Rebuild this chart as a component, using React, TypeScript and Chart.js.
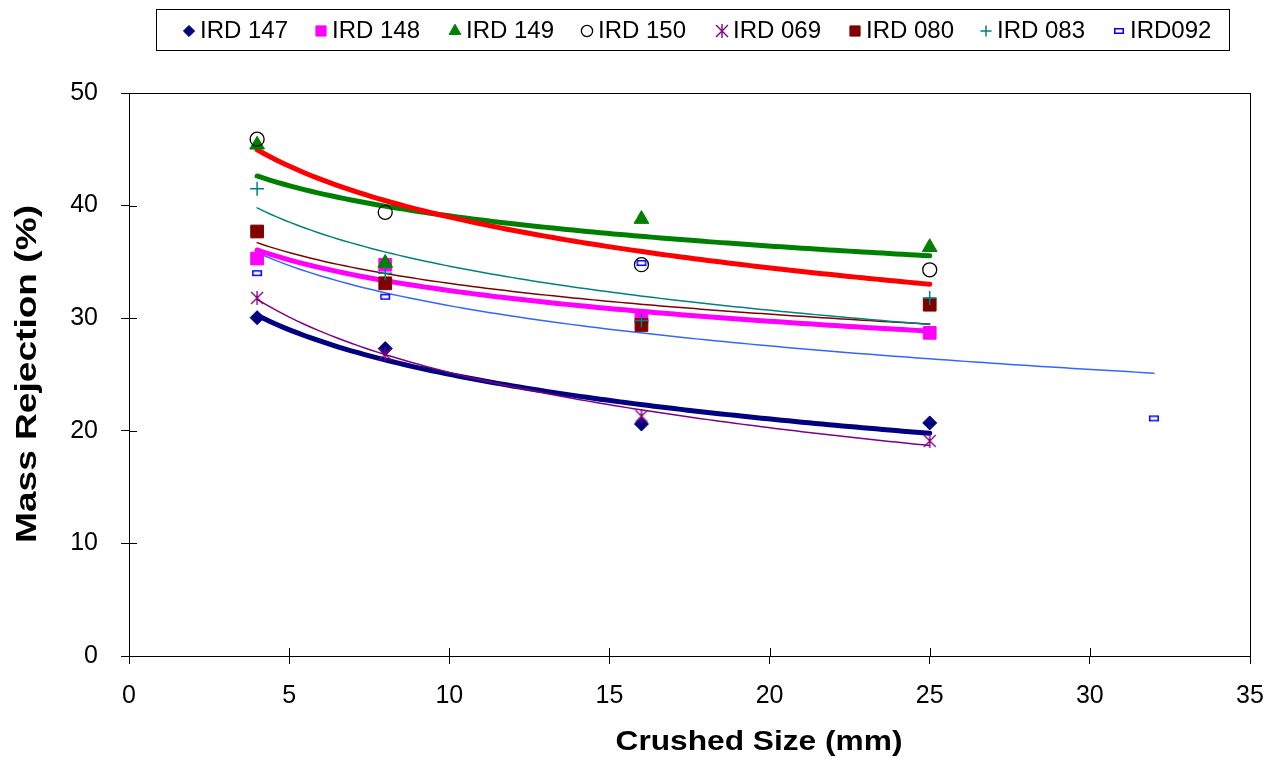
import React, { useEffect, useRef } from 'react';
import { Chart, registerables } from 'chart.js';
import { drawPoint } from 'chart.js/helpers';

Chart.register(...registerables);

// ---------- data ----------
const seriesNames = ['IRD 147', 'IRD 148', 'IRD 149', 'IRD 150', 'IRD 069', 'IRD 080', 'IRD 083', 'IRD092'];
const crushedSize = [4, 8, 16, 25];
const crushedSize092 = [4, 8, 16, 32];
const ird147 = [30.05, 27.3, 20.6, 20.7];
const ird148 = [35.3, 34.75, 30.1, 28.7];
const ird149 = [45.4, 34.9, 38.8, 36.3];
const ird150 = [45.9, 39.4, 34.75, 34.3];
const ird069 = [31.8, 26.8, 21.3, 19.1];
const ird080 = [37.7, 33.1, 29.4, 31.2];
const ird083 = [41.5, 34.0, 29.8, 31.8];
const ird092 = [34.0, 31.9, 34.9, 21.1];
const xTickValues = [0, 5, 10, 15, 20, 25, 30, 35];
const yTickValues = [0, 10, 20, 30, 40, 50];
const xTitle = 'Crushed Size (mm)';
const yTitle = 'Mass Rejection (%)';

// ---------- styles ----------
const FONT = '"Liberation Sans", Arial, sans-serif';

function makeStarCanvas(color: string) {
  const c = document.createElement('canvas');
  c.width = 16; c.height = 16;
  const g = c.getContext('2d')!;
  g.strokeStyle = color; g.lineWidth = 1.4;
  g.beginPath();
  g.moveTo(2, 2); g.lineTo(14, 14);
  g.moveTo(2, 14); g.lineTo(14, 2);
  g.moveTo(8, 1); g.lineTo(8, 15);
  g.stroke();
  return c;
}
function makeSmallRectCanvas(color: string) {
  const c = document.createElement('canvas');
  c.width = 12; c.height = 8;
  const g = c.getContext('2d')!;
  g.fillStyle = '#ffffff';
  g.fillRect(1, 1, 10, 6);
  g.strokeStyle = color; g.lineWidth = 1.5;
  g.strokeRect(1.75, 1.75, 8.5, 4.5);
  return c;
}

type MarkerStyle = { pointStyle: any; radius: number; bg: string; border: string; bw: number };

function logFitPoints(xs: number[], ys: number[]) {
  const lx = xs.map((v) => Math.log(v));
  const n = xs.length;
  const mx = lx.reduce((s, v) => s + v, 0) / n;
  const my = ys.reduce((s, v) => s + v, 0) / n;
  let sxy = 0, sxx = 0;
  for (let i = 0; i < n; i++) { sxy += (lx[i] - mx) * (ys[i] - my); sxx += (lx[i] - mx) ** 2; }
  const b = sxy / sxx;
  const a = my - b * mx;
  const x0 = Math.min(...xs), x1 = Math.max(...xs);
  const pts: { x: number; y: number }[] = [];
  const steps = 100;
  for (let i = 0; i <= steps; i++) {
    const x = x0 + ((x1 - x0) * i) / steps;
    pts.push({ x, y: a + b * Math.log(x) });
  }
  return pts;
}

export default function App() {
  const ref = useRef<HTMLCanvasElement | null>(null);

  useEffect(() => {
    if (!ref.current) return;
    const markers: MarkerStyle[] = [
      { pointStyle: 'rectRot', radius: 7, bg: '#000080', border: '#000080', bw: 1 },
      { pointStyle: 'rect', radius: 9, bg: '#FF00FF', border: '#FF00FF', bw: 1 },
      { pointStyle: 'triangle', radius: 8.5, bg: '#008000', border: '#008000', bw: 1 },
      { pointStyle: 'circle', radius: 7, bg: 'rgba(0,0,0,0)', border: '#000000', bw: 1.3 },
      { pointStyle: makeStarCanvas('#800080'), radius: 8, bg: '#800080', border: '#800080', bw: 1 },
      { pointStyle: 'rect', radius: 9, bg: '#800000', border: '#800000', bw: 1 },
      { pointStyle: 'cross', radius: 7, bg: '#008080', border: '#008080', bw: 1.5 },
      { pointStyle: makeSmallRectCanvas('#0000FF'), radius: 6, bg: '#0000FF', border: '#0000FF', bw: 1 },
    ];
    const trendColors = ['#000080', '#FF00FF', '#008000', '#FF0000', '#800080', '#800000', '#008080', '#3366FF'];
    const trendWidths = [5, 5, 5, 5, 1.5, 1.5, 1.5, 1.5];
    const xsList = [crushedSize, crushedSize, crushedSize, crushedSize, crushedSize, crushedSize, crushedSize, crushedSize092];
    const ysList = [ird147, ird148, ird149, ird150, ird069, ird080, ird083, ird092];

    const datasets: any[] = [];
    seriesNames.forEach((name, i) => {
      const m = markers[i];
      datasets.push({
        label: name,
        data: xsList[i].map((x, k) => ({ x, y: ysList[i][k] })),
        showLine: false,
        pointStyle: m.pointStyle,
        pointRadius: m.radius,
        pointBackgroundColor: m.bg,
        pointBorderColor: m.border,
        pointBorderWidth: m.bw,
        backgroundColor: m.bg,
        borderColor: m.border,
        order: 10 - i,
      });
    });
    seriesNames.forEach((name, i) => {
      datasets.push({
        label: name + ' trend',
        data: logFitPoints(xsList[i], ysList[i]),
        showLine: true,
        pointRadius: 0,
        borderColor: trendColors[i],
        borderWidth: trendWidths[i],
        borderCapStyle: 'round',
        tension: 0,
        order: 100 - i,
      });
    });

    const legendPlugin = {
      id: 'boxLegend',
      afterDraw(chart: any) {
        const ctx = chart.ctx;
        ctx.save();
        ctx.strokeStyle = '#000';
        ctx.lineWidth = 1;
        ctx.strokeRect(156.5, 9.5, 1073, 41);
        const textX = [200, 332, 466, 598, 733, 866, 997, 1130];
        ctx.font = '24px ' + FONT;
        ctx.textBaseline = 'middle';
        ctx.textAlign = 'left';
        seriesNames.forEach((name, i) => {
          const m = markers[i];
          ctx.fillStyle = m.bg;
          ctx.strokeStyle = m.border;
          ctx.lineWidth = m.bw;
          drawPoint(ctx, { pointStyle: m.pointStyle, radius: m.radius * 0.8, rotation: 0, borderWidth: m.bw } as any, textX[i] - 11, 31);
          ctx.fillStyle = '#000';
          ctx.fillText(name, textX[i], 31);
        });
        ctx.restore();
      },
    };

    const framePlugin = {
      id: 'frame',
      afterDraw(chart: any) {
        const ctx = chart.ctx;
        const a = chart.chartArea;
        ctx.save();
        ctx.strokeStyle = '#000';
        ctx.lineWidth = 1;
        ctx.strokeRect(Math.round(a.left) + 0.5, Math.round(a.top) + 0.5, Math.round(a.right - a.left), Math.round(a.bottom - a.top));
        // inner halves of the tick marks
        ctx.beginPath();
        const xs = chart.scales.x, ys = chart.scales.y;
        xs.ticks.forEach((t: any) => {
          const px = Math.round(xs.getPixelForValue(t.value)) + 0.5;
          ctx.moveTo(px, a.bottom);
          ctx.lineTo(px, a.bottom - 8);
        });
        ys.ticks.forEach((t: any) => {
          const py = Math.round(ys.getPixelForValue(t.value)) + 0.5;
          ctx.moveTo(a.left, py);
          ctx.lineTo(a.left + 8, py);
        });
        ctx.stroke();

        // axis titles (stretched like the original)
        ctx.fillStyle = '#000';
        ctx.textAlign = 'center';
        ctx.textBaseline = 'middle';
        ctx.font = 'bold 28px ' + FONT;
        let w = ctx.measureText(xTitle).width;
        ctx.save();
        ctx.translate(759, 742);
        ctx.scale(287 / w, 1);
        ctx.fillText(xTitle, 0, 0);
        ctx.restore();

        ctx.font = 'bold 30px ' + FONT;
        w = ctx.measureText(yTitle).width;
        ctx.save();
        ctx.translate(28, 374);
        ctx.rotate(-Math.PI / 2);
        ctx.scale(338 / w, 1);
        ctx.fillText(yTitle, 0, 0);
        ctx.restore();
        ctx.restore();
      },
    };

    const chart = new Chart(ref.current, {
      type: 'scatter',
      data: { datasets },
      options: {
        responsive: false,
        animation: false,
        events: [],
        layout: { padding: { top: 93, right: 18, bottom: 0, left: 0 } },
        plugins: {
          legend: { display: false },
          tooltip: { enabled: false },
          title: { display: false },
        },
        scales: {
          x: {
            type: 'linear',
            min: xTickValues[0],
            max: xTickValues[xTickValues.length - 1],
            afterBuildTicks: (s: any) => { s.ticks = xTickValues.map((v) => ({ value: v })); },
            afterFit: (s: any) => { s.height = 102; s.paddingLeft = 0; s.paddingRight = 0; },
            grid: { drawOnChartArea: false, tickLength: 8, color: '#000', lineWidth: 1 },
            border: { display: true, color: '#000', width: 1 },
            ticks: { color: '#000', font: { family: FONT, size: 25 }, padding: 17, maxRotation: 0 },
          },
          y: {
            type: 'linear',
            min: yTickValues[0],
            max: yTickValues[yTickValues.length - 1],
            afterBuildTicks: (s: any) => { s.ticks = yTickValues.map((v) => ({ value: v })); },
            afterFit: (s: any) => { s.width = 129; s.paddingTop = 0; s.paddingBottom = 0; },
            grid: { drawOnChartArea: false, tickLength: 8, color: '#000', lineWidth: 1 },
            border: { display: true, color: '#000', width: 1 },
            ticks: { color: '#000', font: { family: FONT, size: 25 }, padding: 23 },
          },
        },
      },
      plugins: [legendPlugin, framePlugin],
    } as any);
    return () => chart.destroy();
  }, []);

  return (
    <div style={{ position: 'absolute', left: 0, top: 0, width: 1268, height: 758, background: '#fff' }}>
      <canvas ref={ref} width={1268} height={758} style={{ display: 'block', width: 1268, height: 758 }} />
    </div>
  );
}
